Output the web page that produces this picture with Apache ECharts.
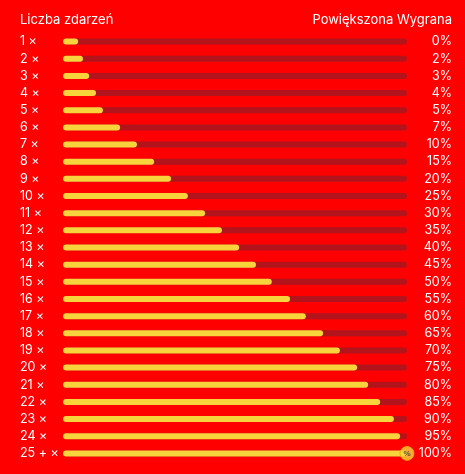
<!DOCTYPE html><html><head><meta charset="utf-8"><script src="https://cdn.jsdelivr.net/npm/echarts@6/dist/echarts.min.js"></script>
<style>html,body{margin:0;background:#ff0000}#c{width:465px;height:474px}</style></head><body><div id="c"></div><script>
const counts=['1 ×','2 ×','3 ×','4 ×','5 ×','6 ×','7 ×','8 ×','9 ×','10 ×','11 ×','12 ×','13 ×','14 ×','15 ×','16 ×','17 ×','18 ×','19 ×','20 ×','21 ×','22 ×','23 ×','24 ×','25 + ×'];
const bonus=['0%','2%','3%','4%','5%','7%','10%','15%','20%','25%','30%','35%','40%','45%','50%','55%','60%','65%','70%','75%','80%','85%','90%','95%','100%'];
const progress=[4.4,5.8,7.6,9.6,11.6,16.6,21.5,26.5,31.4,36.3,41.3,46.2,51.2,56.1,60.7,66,70.6,75.6,80.5,85.5,88.7,92.2,96.2,98,100];
const track=counts.map(()=>100);
const chart=echarts.init(document.getElementById('c'));
const lbl={color:'#fff',fontFamily:'Inter',fontSize:12.5};
chart.setOption({
 backgroundColor:'#ff0000',animation:false,
 graphic:[
  {type:'text',left:20,top:14,style:{text:'Liczba zdarzeń',fill:'#fff',font:'13px Inter'}},
  {type:'text',right:13,top:14,style:{text:'Powiększona Wygrana',fill:'#fff',font:'13px Inter'}}
 ],
 grid:{left:63,right:58,top:33,bottom:12},
 xAxis:{type:'value',min:0,max:100,show:false},
 yAxis:[
  {type:'category',data:counts,inverse:true,axisLine:{show:false},axisTick:{show:false},axisLabel:Object.assign({align:'left',margin:43},lbl)},
  {type:'category',data:bonus,inverse:true,position:'right',axisLine:{show:false},axisTick:{show:false},axisLabel:Object.assign({align:'right',margin:45},lbl)}
 ],
 series:[
  {type:'bar',data:track,barWidth:6,itemStyle:{color:'#b3141b',borderRadius:3},silent:true},
  {type:'bar',data:progress,barWidth:6,barGap:'-100%',itemStyle:{color:'#f8d43c',borderRadius:3},silent:true},
  {type:'scatter',data:[[progress[24],counts[24]]],symbolSize:14,itemStyle:{color:'#f8d43c',borderColor:'#e8a800',borderWidth:1},
   label:{show:true,formatter:'%',color:'#333',fontSize:8,fontWeight:'bold',position:'inside'},z:5}
 ]
});
</script></body></html>
